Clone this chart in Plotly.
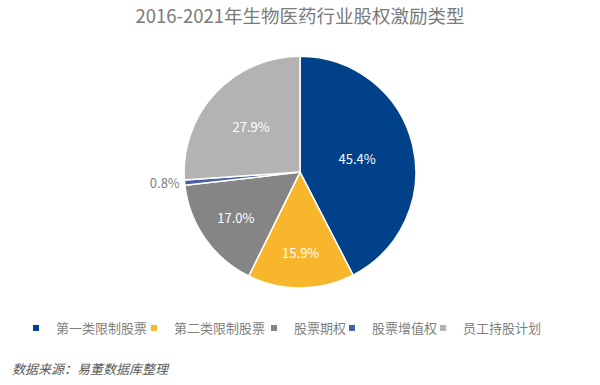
import plotly.graph_objects as go

categories = ["第一类限制股票", "第二类限制股票", "股票期权", "股票增值权", "员工持股计划"]
values = [45.4, 15.9, 17.0, 0.8, 27.9]
label_texts = ["45.4%", "15.9%", "17.0%", "0.8%", "27.9%"]
colors = ["#00418a", "#f8b62d", "#858585", "#4a5ea8", "#b3b3b3"]
positions = ["inside", "inside", "inside", "outside", "inside"]
legend_text_x = [56, 174, 294, 372, 463]  # pixel where each legend label starts

FONT = "Noto Sans CJK SC"
W, H = 600, 385

fig = go.Figure()
fig.add_trace(go.Pie(
    labels=categories,
    values=values,
    text=label_texts,
    textinfo="text",
    textposition=positions,
    insidetextfont=dict(color="white", size=13, family=FONT),
    outsidetextfont=dict(color="#7f7f7f", size=13, family=FONT),
    marker=dict(colors=colors, line=dict(color="white", width=1.5)),
    sort=False,
    direction="clockwise",
    rotation=0,
    showlegend=False,
    domain=dict(x=[0.3067, 0.6933], y=[0.252, 0.854]),
    hoverinfo="label+text",
))

legend_layouts = {}
for i, (name, c, tx) in enumerate(zip(categories, colors, legend_text_x)):
    lname = "legend" if i == 0 else f"legend{i + 1}"
    fig.add_trace(go.Scatter(
        x=[None], y=[None], mode="markers", name=name,
        marker=dict(symbol="square", size=6, color=c),
        showlegend=True, legend=lname,
    ))
    legend_layouts[lname] = dict(
        orientation="h", x=(tx - 40) / W, xanchor="left",
        y=1 - 328 / H, yanchor="middle",
        font=dict(size=13, color="#808080", family=FONT),
        itemwidth=30, bgcolor="rgba(0,0,0,0)", borderwidth=0,
    )

fig.update_layout(
    width=W, height=H,
    margin=dict(l=0, r=0, t=0, b=0),
    paper_bgcolor="white", plot_bgcolor="white",
    font=dict(family=FONT, color="#7f7f7f"),
    title=dict(text="2016-2021年生物医药行业股权激励类型", x=0.5, xanchor="center",
               y=1 - 17 / H, yanchor="middle",
               font=dict(size=18.5, color="#7a7a7a", family=FONT)),
    xaxis=dict(visible=False),
    yaxis=dict(visible=False),
    annotations=[dict(text="<i>数据来源：易董数据库整理</i>", x=10 / W, y=1 - 368 / H,
                      xref="paper", yref="paper", xanchor="left", yanchor="middle",
                      showarrow=False, font=dict(size=13, color="#595959", family=FONT))],
    **legend_layouts,
)

fig.write_html("out.html", config={"displayModeBar": False},
               post_script="document.body.style.margin='0';")
